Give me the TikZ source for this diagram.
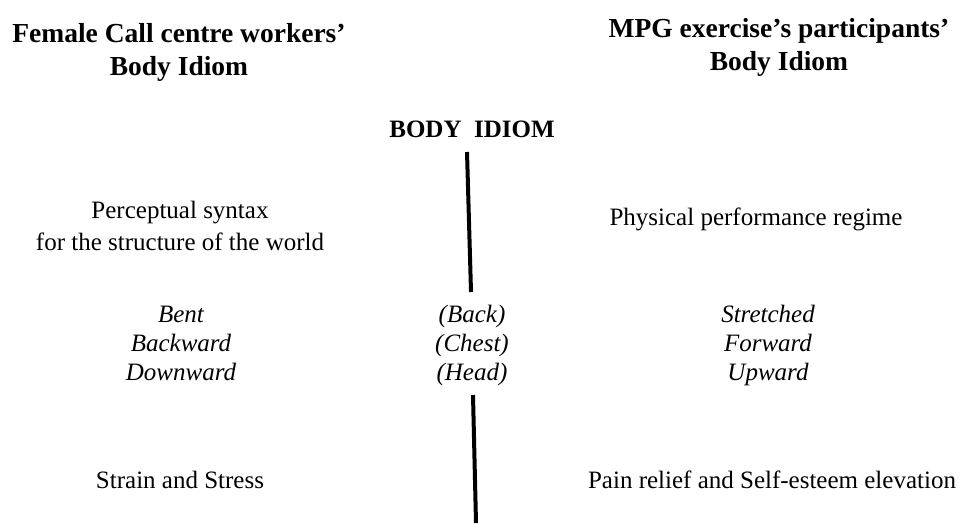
\documentclass[tikz,border=0pt]{standalone}
\usepackage{fontspec}
\setmainfont{Liberation Serif}
\usetikzlibrary{positioning}

\tikzset{
  headtxt/.style={font=\bfseries\fontsize{27.5}{33}\selectfont, align=center, anchor=base, inner sep=0pt},
  titletxt/.style={font=\bfseries\fontsize{25}{30}\selectfont, anchor=base, inner sep=0pt},
  bodytxt/.style={font=\fontsize{25}{32}\selectfont, align=center, anchor=base, inner sep=0pt},
  parttxt/.style={font=\itshape\fontsize{25}{29}\selectfont, align=center, anchor=base, inner sep=0pt},
  axisline/.style={line width=4pt},
}

\begin{document}
\begin{tikzpicture}[x=1pt,y=-1pt]
    \useasboundingbox (0,0) rectangle (965,523);
    % column heads (base = last line)
    \node[headtxt] (lefthead) at (179,75) {Female Call centre workers’\\Body Idiom};
    \node[headtxt] (righthead) at (779,70) {MPG exercise’s participants’\\Body Idiom};
    \node[titletxt] (idiom) at (472,137) {BODY\ \ IDIOM};
    % rows
    \node[bodytxt] (syntax) at (180,250) {Perceptual syntax\\for the structure of the world};
    \node[bodytxt] (regime) at (756,225) {Physical performance regime};
    \node[parttxt] (bent) at (181,380) {Bent\\Backward\\Downward};
    \node[parttxt] (parts) at (472,380) {(Back)\\(Chest)\\(Head)};
    \node[parttxt] (stretched) at (768,380) {Stretched\\Forward\\Upward};
    \node[bodytxt] (strain) at (180,488) {Strain and Stress};
    \node[bodytxt] (relief) at (772,488) {Pain relief and Self-esteem elevation};
    % axis
    \coordinate (a1) at (467,152);
    \coordinate (a2) at (471,292);
    \coordinate (b1) at (473,395);
    \coordinate (b2) at (476,523);
    \draw[axisline] (a1) -- (a2);
    \draw[axisline] (b1) -- (b2);
\end{tikzpicture}
\end{document}
